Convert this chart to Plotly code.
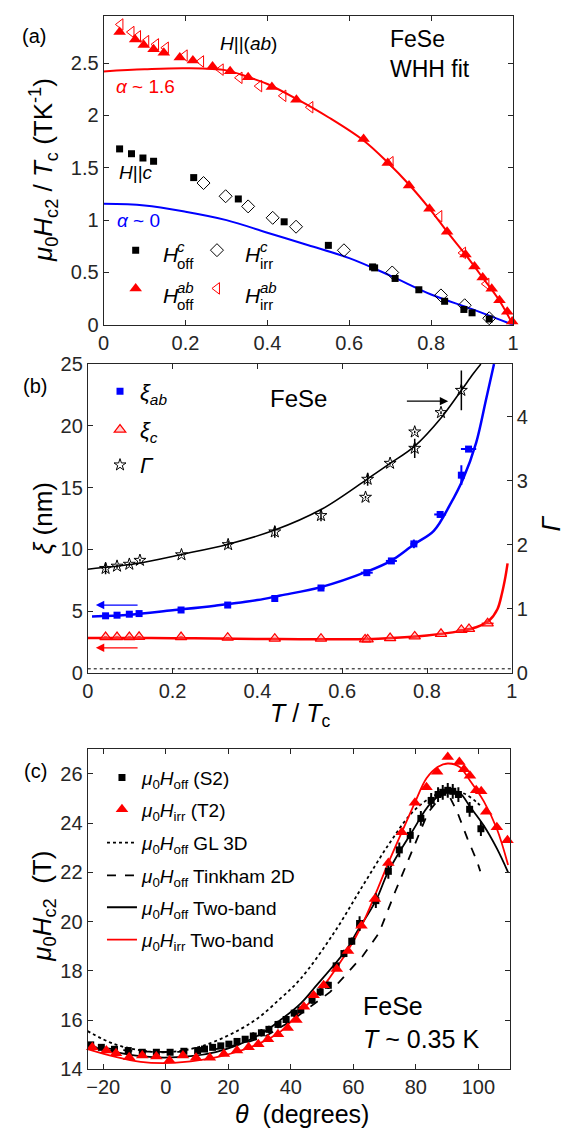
import plotly.graph_objects as go

W, H = 580, 1144
FONT = "Liberation Sans, Arial, Helvetica, sans-serif"
INK = "#262626"
RED = "#ff0000"
BLUE = "#0000ff"


def px(x):
    return x / W


def py(y):
    return 1 - y / H


# ---------------- panel (a) data ----------------
ab_off_t = [0.039, 0.077, 0.098, 0.122, 0.147, 0.186, 0.218, 0.266, 0.309, 0.353, 0.411, 0.471,
            0.635, 0.694, 0.746, 0.796, 0.839, 0.884, 0.906, 0.926, 0.948, 0.967, 0.986, 0.998]
ab_off_h = [2.796, 2.724, 2.671, 2.631, 2.599, 2.552, 2.524, 2.468, 2.421, 2.365, 2.271, 2.149,
            1.774, 1.546, 1.331, 1.109, 0.890, 0.672, 0.556, 0.453, 0.344, 0.234, 0.125, 0.031]
ab_irr_t = [0.041, 0.068, 0.084, 0.104, 0.128, 0.152, 0.198, 0.238, 0.286, 0.332, 0.380, 0.439,
            0.505, 0.701, 0.820, 0.878, 0.935]
ab_irr_h = [2.868, 2.796, 2.755, 2.709, 2.678, 2.646, 2.571, 2.515, 2.437, 2.359, 2.280, 2.187,
            2.078, 1.553, 1.037, 0.687, 0.391]
c_off_t = [0.039, 0.068, 0.096, 0.122, 0.220, 0.329, 0.441, 0.549, 0.657, 0.662, 0.712, 0.770,
           0.833, 0.880, 0.900, 0.942]
c_off_h = [1.680, 1.634, 1.593, 1.562, 1.406, 1.202, 0.984, 0.759, 0.553, 0.544, 0.443, 0.335,
           0.225, 0.147, 0.115, 0.056]
c_irr_t = [0.244, 0.298, 0.353, 0.413, 0.470, 0.587, 0.705, 0.824, 0.882, 0.942]
c_irr_h = [1.354, 1.228, 1.131, 1.022, 0.937, 0.712, 0.500, 0.281, 0.187, 0.063]
whh_ab_t = [0, 0.1, 0.2, 0.3, 0.35, 0.4, 0.47, 0.55, 0.635, 0.694, 0.746, 0.796, 0.839, 0.884,
            0.926, 0.967, 1.0]
whh_ab_h = [2.42, 2.44, 2.45, 2.43, 2.37, 2.30, 2.16, 1.98, 1.76, 1.55, 1.34, 1.11, 0.89, 0.67,
            0.45, 0.23, 0.0]
whh_c_t = [0, 0.1, 0.2, 0.3, 0.4, 0.5, 0.6, 0.7, 0.8, 0.9, 1.0]
whh_c_h = [1.156, 1.14, 1.08, 1.0, 0.88, 0.76, 0.637, 0.47, 0.29, 0.15, 0.0]

# ---------------- panel (b) data ----------------
xi_ab_t = [0.042, 0.069, 0.098, 0.121, 0.220, 0.330, 0.441, 0.550, 0.658, 0.716, 0.769, 0.831,
           0.881, 0.898]
xi_ab = [4.63, 4.68, 4.76, 4.81, 5.10, 5.50, 6.03, 6.88, 8.12, 9.07, 10.45, 12.83, 16.01, 18.12]
xi_ab_ey = [0.1, 0.1, 0.1, 0.1, 0.1, 0.1, 0.15, 0.15, 0.2, 0.2, 0.35, 0.2, 0.8, 0.2]
xi_ab_ex = [0.004, 0.004, 0.004, 0.004, 0.004, 0.006, 0.006, 0.008, 0.014, 0.013, 0.008, 0.014,
            0.004, 0.018]
xi_c_t = [0.042, 0.069, 0.098, 0.121, 0.220, 0.330, 0.441, 0.550, 0.654, 0.660, 0.713, 0.771,
          0.833, 0.881, 0.899, 0.943]
xi_c = [2.91, 2.91, 2.91, 2.93, 2.91, 2.86, 2.78, 2.78, 2.72, 2.72, 2.83, 2.96, 3.17, 3.49,
        3.57, 4.02]
xi_c_ex = [0.004] * 12 + [0.006, 0.008, 0.01, 0.014]
gam_t = [0.042, 0.069, 0.098, 0.123, 0.221, 0.331, 0.441, 0.550, 0.655, 0.660, 0.713, 0.771,
         0.771, 0.833, 0.881]
gam = [1.632, 1.667, 1.697, 1.758, 1.845, 2.003, 2.202, 2.457, 2.742, 3.023, 3.272, 3.761,
       3.506, 4.063, 4.41]
gam_ey = [0.09, 0.03, 0.03, 0.02, 0.02, 0.06, 0.09, 0.09, 0.02, 0.1, 0.02, 0.02, 0.15, 0.02, 0.31]
fit_xi_ab_t = [0.01, 0.1, 0.2, 0.3, 0.4, 0.454, 0.55, 0.658, 0.716, 0.769, 0.816, 0.854, 0.885,
               0.916, 0.939, 0.958]
fit_xi_ab = [4.58, 4.72, 5.08, 5.45, 5.9, 6.27, 6.95, 8.2, 9.1, 10.4, 11.5, 13.6, 15.7, 18.65,
             22.1, 25.0]
fit_xi_c_t = [0, 0.1, 0.2, 0.3, 0.4, 0.5, 0.6, 0.685, 0.8, 0.877, 0.916, 0.946, 0.966, 0.977,
              0.985, 0.990]
fit_xi_c = [2.83, 2.83, 2.82, 2.80, 2.76, 2.73, 2.73, 2.78, 3.04, 3.39, 3.70, 4.23, 5.16, 6.48,
            7.80, 8.87]
fit_gam_t = [0, 0.115, 0.221, 0.331, 0.441, 0.55, 0.66, 0.713, 0.771, 0.833, 0.881, 0.908, 0.927]
fit_gam = [1.62, 1.708, 1.85, 2.01, 2.23, 2.55, 3.03, 3.27, 3.54, 3.98, 4.41, 4.66, 4.82]
ref_line_t = [0, 1]
ref_line_xi = [0.34, 0.34]

# ---------------- panel (c) data ----------------
off_th = [-24.0, -20.6, -16.4, -12.0, -7.5, -3.0, 1.4, 5.8, 10.2, 12.4, 15.0, 17.6, 20.2, 22.8,
          25.4, 28.0, 30.6, 33.0, 35.9, 38.5, 41.1, 43.2, 46.8, 49.4, 52.0, 54.5, 57.0, 59.5,
          62.0, 67.2, 71.2, 74.7, 78.2, 81.6, 84.9, 87.1, 88.6, 90.2, 91.8, 93.6, 97.2, 100.8]
off_h = [14.99, 14.89, 14.81, 14.76, 14.69, 14.69, 14.69, 14.73, 14.76, 14.82, 14.89, 14.95,
         15.02, 15.13, 15.22, 15.35, 15.48, 15.62, 15.82, 16.02, 16.28, 16.41, 16.81, 17.14,
         17.41, 18.2, 18.7, 19.2, 19.92, 20.85, 22.04, 22.91, 23.50, 24.19, 24.92, 25.16, 25.25,
         25.33, 25.29, 25.16, 24.56, 23.77]
off_err = [0.1] * 15 + [0.15] * 13 + [0.3] * 14
irr_th = [-23.5, -19.0, -15.9, -11.7, -7.5, -3.0, 1.2, 5.5, 9.7, 14.1, 18.6, 22.8, 26.5, 29.6,
          32.7, 35.9, 39.0, 41.8, 44.2, 47.3, 50.5, 54.7, 58.3, 62.6, 66.9, 71.2, 75.5, 79.7,
          83.4, 86.8, 90.2, 93.9, 95.4, 97.3, 99.3, 100.9, 102.5, 105.9, 109.3]
irr_h = [14.89, 14.76, 14.65, 14.49, 14.56, 14.52, 14.36, 14.56, 14.47, 14.47, 14.62, 14.76,
         14.89, 15.02, 15.22, 15.42, 15.68, 16.0, 16.54, 17.01, 17.41, 18.07, 18.80, 19.83,
         20.92, 22.38, 23.63, 24.83, 25.46, 26.09, 26.68, 26.48, 26.19, 25.92, 25.33, 25.29,
         24.46, 23.83, 23.3]
gl_th = [-25, -16.4, -7.5, 0, 11.8, 27.5, 36.9, 43.1, 53.6, 63.0, 71.4, 78.6, 84.9, 90.2, 95.4,
         99.6, 101.2]
gl_h = [15.55, 15.02, 14.76, 14.69, 14.95, 15.9, 16.9, 17.67, 19.5, 21.45, 23.15, 24.4, 25.05,
        25.29, 25.2, 24.83, 24.63]
tk_th = [-25, -16, -8, 0, 8, 16, 25, 32, 40, 52.6, 63, 68.2, 73.5, 78.7, 83.9, 88.1, 89.7, 93.3,
         96.5, 99.6, 100.6]
tk_h = [14.95, 14.8, 14.72, 14.7, 14.72, 14.82, 15.05, 15.35, 15.95, 17.14, 18.6, 19.53, 21.25,
        22.84, 24.43, 25.09, 25.36, 24.43, 23.37, 22.44, 22.04]
tb_off_th = [-25, -16, -8, -0.7, 8, 16, 22.3, 30, 36.9, 43.2, 47.3, 57.8, 60.9, 67.2, 71.2, 78.7,
             84.9, 90.2, 93.9, 97.5, 101.7, 105.9, 109.5]
tb_off_h = [14.95, 14.7, 14.53, 14.47, 14.53, 14.7, 14.95, 15.4, 16.02, 16.68, 17.27, 18.86,
            19.53, 20.85, 22.04, 23.63, 24.83, 25.29, 25.23, 24.63, 23.9, 22.97, 22.0]
tb_irr_th = [-25, -16, -8, -0.7, 8, 16, 22.3, 30, 36.9, 43.2, 47.3, 57.8, 63.0, 71.4, 75.5, 79.7,
             83.4, 87.1, 90.2, 93.9, 97.5, 101.7, 105.9, 109.5]
tb_irr_h = [14.82, 14.5, 14.3, 14.25, 14.32, 14.48, 14.69, 15.05, 15.55, 16.38, 16.88, 18.73,
            19.92, 22.44, 23.63, 24.83, 25.82, 26.29, 26.42, 26.29, 25.69, 24.89, 23.77, 22.3]

fig = go.Figure()


def leg(sx, sy, size=19):
    return dict(x=px(sx - 20), y=py(sy), xanchor="left", yanchor="middle",
                bgcolor="rgba(0,0,0,0)", borderwidth=0, itemclick=False,
                itemdoubleclick=False, font=dict(family=FONT, size=size, color="black"))


# ---- (a)
fig.add_trace(go.Scatter(x=whh_ab_t, y=whh_ab_h, mode="lines", xaxis="x", yaxis="y",
                         line=dict(color=RED, width=2, shape="spline"), showlegend=False))
fig.add_trace(go.Scatter(x=whh_c_t, y=whh_c_h, mode="lines", xaxis="x", yaxis="y",
                         line=dict(color=BLUE, width=2, shape="spline"), showlegend=False))
fig.add_trace(go.Scatter(x=c_off_t, y=c_off_h, mode="markers", xaxis="x", yaxis="y", name=" ",
                         marker=dict(symbol="square", size=7, color="black"),
                         legend="legend", cliponaxis=False))
fig.add_trace(go.Scatter(x=c_irr_t, y=c_irr_h, mode="markers", xaxis="x", yaxis="y", name=" ",
                         marker=dict(symbol="diamond-open", size=10, color="black",
                                     line=dict(width=1)),
                         legend="legend2", cliponaxis=False))
fig.add_trace(go.Scatter(x=ab_off_t, y=ab_off_h, mode="markers", xaxis="x", yaxis="y", name=" ",
                         marker=dict(symbol="triangle-up", size=11, color=RED),
                         legend="legend3", cliponaxis=False))
fig.add_trace(go.Scatter(x=ab_irr_t, y=ab_irr_h, mode="markers", xaxis="x", yaxis="y", name=" ",
                         marker=dict(symbol="triangle-left-open", size=10, color=RED,
                                     line=dict(width=1)),
                         legend="legend4", cliponaxis=False))

# ---- (b)
fig.add_trace(go.Scatter(x=ref_line_t, y=ref_line_xi, mode="lines", xaxis="x2", yaxis="y2",
                         line=dict(color="black", width=1, dash="dot"), showlegend=False))
fig.add_trace(go.Scatter(x=fit_gam_t, y=fit_gam, mode="lines", xaxis="x2", yaxis="y3",
                         line=dict(color="black", width=1.6, shape="spline"), showlegend=False))
fig.add_trace(go.Scatter(x=fit_xi_ab_t, y=fit_xi_ab, mode="lines", xaxis="x2", yaxis="y2",
                         line=dict(color=BLUE, width=2.5, shape="spline"), showlegend=False))
fig.add_trace(go.Scatter(x=fit_xi_c_t, y=fit_xi_c, mode="lines", xaxis="x2", yaxis="y2",
                         line=dict(color=RED, width=2.5, shape="spline"), showlegend=False))
fig.add_trace(go.Scatter(x=xi_ab_t, y=xi_ab, mode="markers", xaxis="x2", yaxis="y2",
                         name="<i>ξ</i><sub><i>ab</i></sub>",
                         marker=dict(symbol="square", size=7, color=BLUE),
                         error_y=dict(type="data", array=xi_ab_ey, color=BLUE, thickness=2, width=0),
                         error_x=dict(type="data", array=xi_ab_ex, color=BLUE, thickness=2, width=0),
                         legend="legend5", cliponaxis=False))
fig.add_trace(go.Scatter(x=xi_c_t, y=xi_c, mode="markers", xaxis="x2", yaxis="y2",
                         name="<i>ξ</i><sub><i>c</i></sub>",
                         marker=dict(symbol="triangle-up", size=10, color="rgba(255,120,120,0.35)",
                                     line=dict(width=1.2, color=RED)),
                         error_x=dict(type="data", array=xi_c_ex, color=RED, thickness=1.5, width=0),
                         legend="legend6", cliponaxis=False))
fig.add_trace(go.Scatter(x=gam_t, y=gam, mode="markers", xaxis="x2", yaxis="y3",
                         name="<i>Γ</i>",
                         marker=dict(symbol="star-open", size=9, color="black", line=dict(width=1)),
                         error_y=dict(type="data", array=gam_ey, color="black", thickness=1.5, width=0),
                         legend="legend7", cliponaxis=False))

# ---- (c)
fig.add_trace(go.Scatter(x=gl_th, y=gl_h, mode="lines", xaxis="x3", yaxis="y4",
                         name="<i>μ</i><sub>0</sub><i>H</i><sub>off</sub> GL 3D",
                         line=dict(color="black", width=1.8, dash="dot", shape="spline"),
                         legend="legend10"))
fig.add_trace(go.Scatter(x=tk_th, y=tk_h, mode="lines", xaxis="x3", yaxis="y4",
                         name="<i>μ</i><sub>0</sub><i>H</i><sub>off</sub> Tinkham 2D",
                         line=dict(color="black", width=1.8, dash="dash"),
                         legend="legend11"))
fig.add_trace(go.Scatter(x=tb_off_th, y=tb_off_h, mode="lines", xaxis="x3", yaxis="y4",
                         name="<i>μ</i><sub>0</sub><i>H</i><sub>off</sub> Two-band",
                         line=dict(color="black", width=1.8, shape="spline"),
                         legend="legend12"))
fig.add_trace(go.Scatter(x=tb_irr_th, y=tb_irr_h, mode="lines", xaxis="x3", yaxis="y4",
                         name="<i>μ</i><sub>0</sub><i>H</i><sub>irr</sub> Two-band",
                         line=dict(color=RED, width=1.8, shape="spline"),
                         legend="legend13"))
fig.add_trace(go.Scatter(x=off_th, y=off_h, mode="markers", xaxis="x3", yaxis="y4",
                         name="<i>μ</i><sub>0</sub><i>H</i><sub>off</sub> (S2)",
                         marker=dict(symbol="square", size=7, color="black"),
                         error_y=dict(type="data", array=off_err, color="black", thickness=2, width=0),
                         legend="legend8", cliponaxis=False))
fig.add_trace(go.Scatter(x=irr_th, y=irr_h, mode="markers", xaxis="x3", yaxis="y4",
                         name="<i>μ</i><sub>0</sub><i>H</i><sub>irr</sub> (T2)",
                         marker=dict(symbol="triangle-up", size=11, color=RED),
                         legend="legend9", cliponaxis=False))

tickfont = dict(family=FONT, size=20, color=INK)
ax = dict(showline=True, linecolor=INK, linewidth=1, ticks="inside", ticklen=5, tickwidth=1,
          tickcolor=INK, showgrid=False, zeroline=False, tickfont=tickfont, mirror="ticks",
          fixedrange=True)

annotations = []


def txt(x, y, text, size=19, color="black", xanchor="center", angle=0, align="center"):
    annotations.append(dict(x=px(x), y=py(y), xref="paper", yref="paper", text=text,
                            showarrow=False, xanchor=xanchor, yanchor="middle", textangle=angle,
                            align=align, borderpad=0,
                            font=dict(family=FONT, size=size, color=color)))


# panel labels
txt(29, 25, "(a)", 20)
txt(30, 382, "(b)", 20)
txt(30, 775, "(c)", 20)
# (a) texts
txt(248, 33, "<i>H</i>||(<i>ab</i>)", 19)
txt(391, 44, "FeSe<br>WHH fit", 23, xanchor="left", align="left")
txt(111, 77, "<i>α</i> ~ 1.6", 19, RED, xanchor="left")
txt(114, 165, "<i>H</i>||<i>c</i>", 19, xanchor="left")
txt(112, 214, "<i>α</i> ~ 0", 19, BLUE, xanchor="left")
# (a) legend texts (stacked super/subscripts)
for lx, ly, sup, sub in [(159, 248, "c", "off"), (243, 248, "c", "irr"),
                         (159, 290, "ab", "off"), (243, 290, "ab", "irr")]:
    txt(lx, ly, "<i>H</i>", 21, xanchor="left")
    txt(lx + 15, ly - 8, "<i>%s</i>" % sup, 15, xanchor="left")
    txt(lx + 15, ly + 9, sub, 15, xanchor="left")
# (b) texts
txt(269, 395, "FeSe", 24, xanchor="left")
# (c) texts
txt(364, 1031, "FeSe<br><i>T</i> ~ 0.35 K", 25, xanchor="left", align="left")
# axis titles
txt(38, 162, "<i>μ</i><sub>0</sub><i>H</i><sub>c2</sub> / <i>T</i><sub>c</sub> (TK<sup>-1</sup>)",
    26, angle=-90)
txt(38, 517, "<i>ξ</i> (nm)", 26, angle=-90)
txt(556, 522, "<i>Γ</i>", 26, angle=-90)
txt(300, 718, "<i>T</i> / <i>T</i><sub>c</sub>", 25)
txt(38, 913, "<i>μ</i><sub>0</sub><i>H</i><sub>c2</sub>  (T)", 26, angle=-90)
txt(302, 1125, "<i>θ</i>  (degrees)", 25)

# arrows in (b)
for (x0, x1, yv, col) in [(0.749, 0.850, 22.0, "black"), (0.121, 0.019, 5.5, BLUE),
                          (0.121, 0.019, 2.04, RED)]:
    annotations.append(dict(x=x1, y=yv, ax=x0, ay=yv, xref="x2", yref="y2", axref="x2",
                            ayref="y2", text="", showarrow=True, arrowhead=2, arrowsize=1.4,
                            arrowwidth=1.2, arrowcolor=col))

layout = dict(
    width=W, height=H, margin=dict(l=0, r=0, t=0, b=0),
    paper_bgcolor="white", plot_bgcolor="white",
    font=dict(family=FONT, color="black"),
    xaxis=dict(ax, domain=[px(99.7), px(517.7)], range=[0, 1], anchor="y",
               tickvals=[0, 0.2, 0.4, 0.6, 0.8, 1], ticktext=["0", "0.2", "0.4", "0.6", "0.8", "1"]),
    yaxis=dict(ax, domain=[py(320), py(5)], range=[0, 2.95], anchor="x",
               tickvals=[0, 0.5, 1, 1.5, 2, 2.5], ticktext=["0", "0.5", "1", "1.5", "2", "2.5"]),
    xaxis2=dict(ax, domain=[px(83.5), px(516.5)], range=[0, 1], anchor="y2",
                tickvals=[0, 0.2, 0.4, 0.6, 0.8, 1], ticktext=["0", "0.2", "0.4", "0.6", "0.8", "1"]),
    yaxis2=dict(ax, domain=[py(675), py(360)], range=[0, 25], anchor="x2", mirror=False,
                tickvals=[0, 5, 10, 15, 20, 25]),
    yaxis3=dict(ax, overlaying="y2", side="right", range=[0, 4.82], anchor="x2", mirror=False,
                tickvals=[0, 1, 2, 3, 4]),
    xaxis3=dict(ax, domain=[px(83.3), px(514.3)], range=[-25, 110], anchor="y4",
                tickvals=[-20, 0, 20, 40, 60, 80, 100]),
    yaxis4=dict(ax, domain=[py(1079), py(752.7)], range=[14, 27], anchor="x3",
                tickvals=[14, 16, 18, 20, 22, 24, 26]),
    legend=leg(132, 244), legend2=leg(215, 244), legend3=leg(132, 283), legend4=leg(215, 283),
    legend5=leg(116, 388, 22), legend6=leg(116, 427, 22), legend7=leg(116, 463, 22),
    legend8=leg(118, 781.7, 19), legend9=leg(118, 814, 19), legend10=leg(118, 848, 19),
    legend11=leg(118, 881.5, 19), legend12=leg(118, 914, 19), legend13=leg(118, 947, 19),
    annotations=annotations,
    showlegend=True,
)
fig.update_layout(**layout)
fig.write_html("out.html", config={"displayModeBar": False, "staticPlot": False},
               post_script="document.body.style.margin='0px';")
